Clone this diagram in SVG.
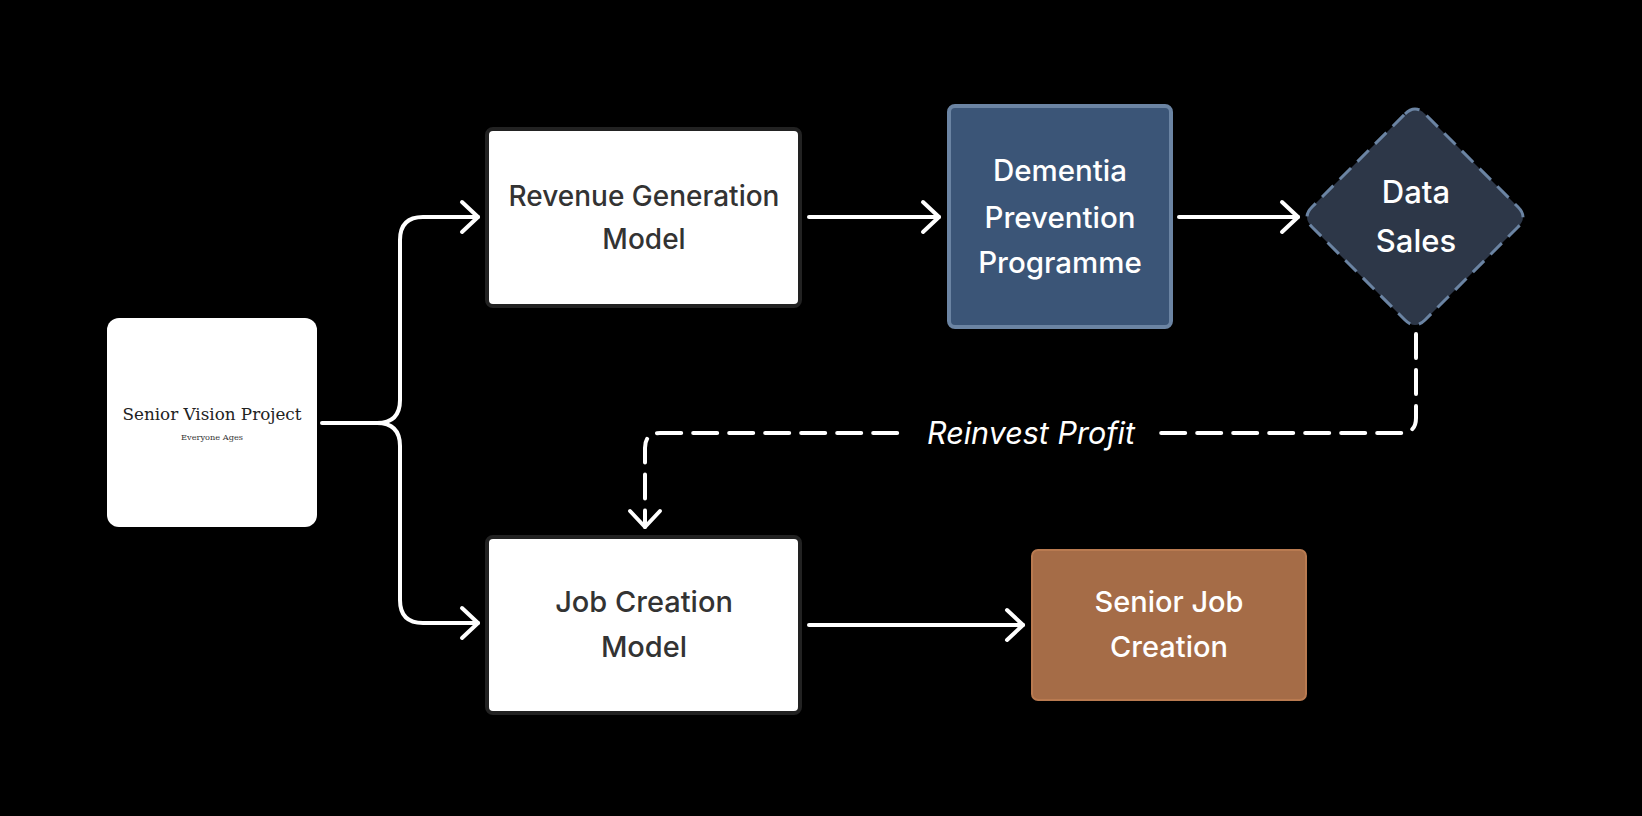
<svg xmlns="http://www.w3.org/2000/svg" width="1642" height="816" viewBox="0 0 1642 816">
<style>
.lbl{font-family:Inter,"Noto Sans",sans-serif;font-weight:500;text-anchor:middle}
.dark{fill:#333333}
.light{fill:#ffffff}
.conn{fill:none;stroke:#ffffff;stroke-width:4;stroke-linecap:round;stroke-linejoin:round}
</style>
<defs>
<marker id="arr" markerUnits="userSpaceOnUse" markerWidth="40" markerHeight="40" viewBox="0 0 40 40" refX="20" refY="20" orient="auto">
<path d="M4 5 L20 20 L4 35" fill="none" stroke="#ffffff" stroke-width="4" stroke-linecap="round" stroke-linejoin="round"/>
</marker>
</defs>
<rect x="0" y="0" width="1642" height="816" fill="#000000"/>
<g id="connectors">
<path class="conn" d="M322 423 H377 Q400 423 400 400 V240 Q400 217 423 217 H478" marker-end="url(#arr)"/>
<path class="conn" d="M377 423 Q400 423 400 446 V600 Q400 623 423 623 H478" marker-end="url(#arr)"/>
<path class="conn" d="M809 217 H939" marker-end="url(#arr)"/>
<path class="conn" d="M1179 217 H1298" marker-end="url(#arr)"/>
<path class="conn" d="M809 625 H1023" marker-end="url(#arr)"/>
<path class="conn" d="M1416 334 V418 Q1416 433 1401 433 H660 Q645 433 645 448 V527" stroke-dasharray="24 12" marker-end="url(#arr)"/>
<rect x="907" y="414" width="246" height="38" fill="#000000"/>
<text x="1031" y="444" font-family="Inter,'Noto Sans',sans-serif" font-style="italic" font-weight="400" font-size="30.5" fill="#ffffff" text-anchor="middle">Reinvest Profit</text>
</g>
<g id="senior-vision-project">
<rect x="107" y="318" width="210" height="209" rx="12" fill="#ffffff"/>
<text x="212" y="420" font-family="'DejaVu Serif',serif" font-size="17" fill="#222222" text-anchor="middle" textLength="179" lengthAdjust="spacingAndGlyphs">Senior Vision Project</text>
<text x="212" y="440" font-family="'DejaVu Serif',serif" font-size="8" fill="#333333" text-anchor="middle" textLength="62" lengthAdjust="spacingAndGlyphs">Everyone Ages</text>
</g>
<g id="revenue-generation-model">
<rect x="487" y="129" width="313" height="177" rx="6" fill="#ffffff" stroke="#222222" stroke-width="4"/>
<text class="lbl dark" font-size="28"><tspan x="644" y="206">Revenue Generation</tspan><tspan x="644" y="249">Model</tspan></text>
</g>
<g id="dementia-prevention-programme">
<rect x="949" y="106" width="222" height="221" rx="6" fill="#3b5577" stroke="#6b84a3" stroke-width="4"/>
<text class="lbl light" font-size="29.5"><tspan x="1060" y="181">Dementia</tspan><tspan x="1060" y="228">Prevention</tspan><tspan x="1060" y="273">Programme</tspan></text>
</g>
<g id="data-sales">
<path d="M1405 114 Q1415 104 1425 114 L1518 207 Q1528 217 1518 227 L1425 320 Q1415 330 1405 320 L1312 227 Q1302 217 1312 207 Z" fill="#2d3748" stroke="#6b84a3" stroke-width="3" stroke-dasharray="16 9"/>
<text class="lbl light" font-size="31"><tspan x="1416" y="203">Data</tspan><tspan x="1416" y="252">Sales</tspan></text>
</g>
<g id="job-creation-model">
<rect x="487" y="537" width="313" height="176" rx="6" fill="#ffffff" stroke="#222222" stroke-width="4"/>
<text class="lbl dark" font-size="29"><tspan x="644" y="612">Job Creation</tspan><tspan x="644" y="657">Model</tspan></text>
</g>
<g id="senior-job-creation">
<rect x="1032" y="550" width="274" height="150" rx="6" fill="#a56c47" stroke="#b97a50" stroke-width="2"/>
<text class="lbl light" font-size="29"><tspan x="1169" y="612">Senior Job</tspan><tspan x="1169" y="657">Creation</tspan></text>
</g>
</svg>
